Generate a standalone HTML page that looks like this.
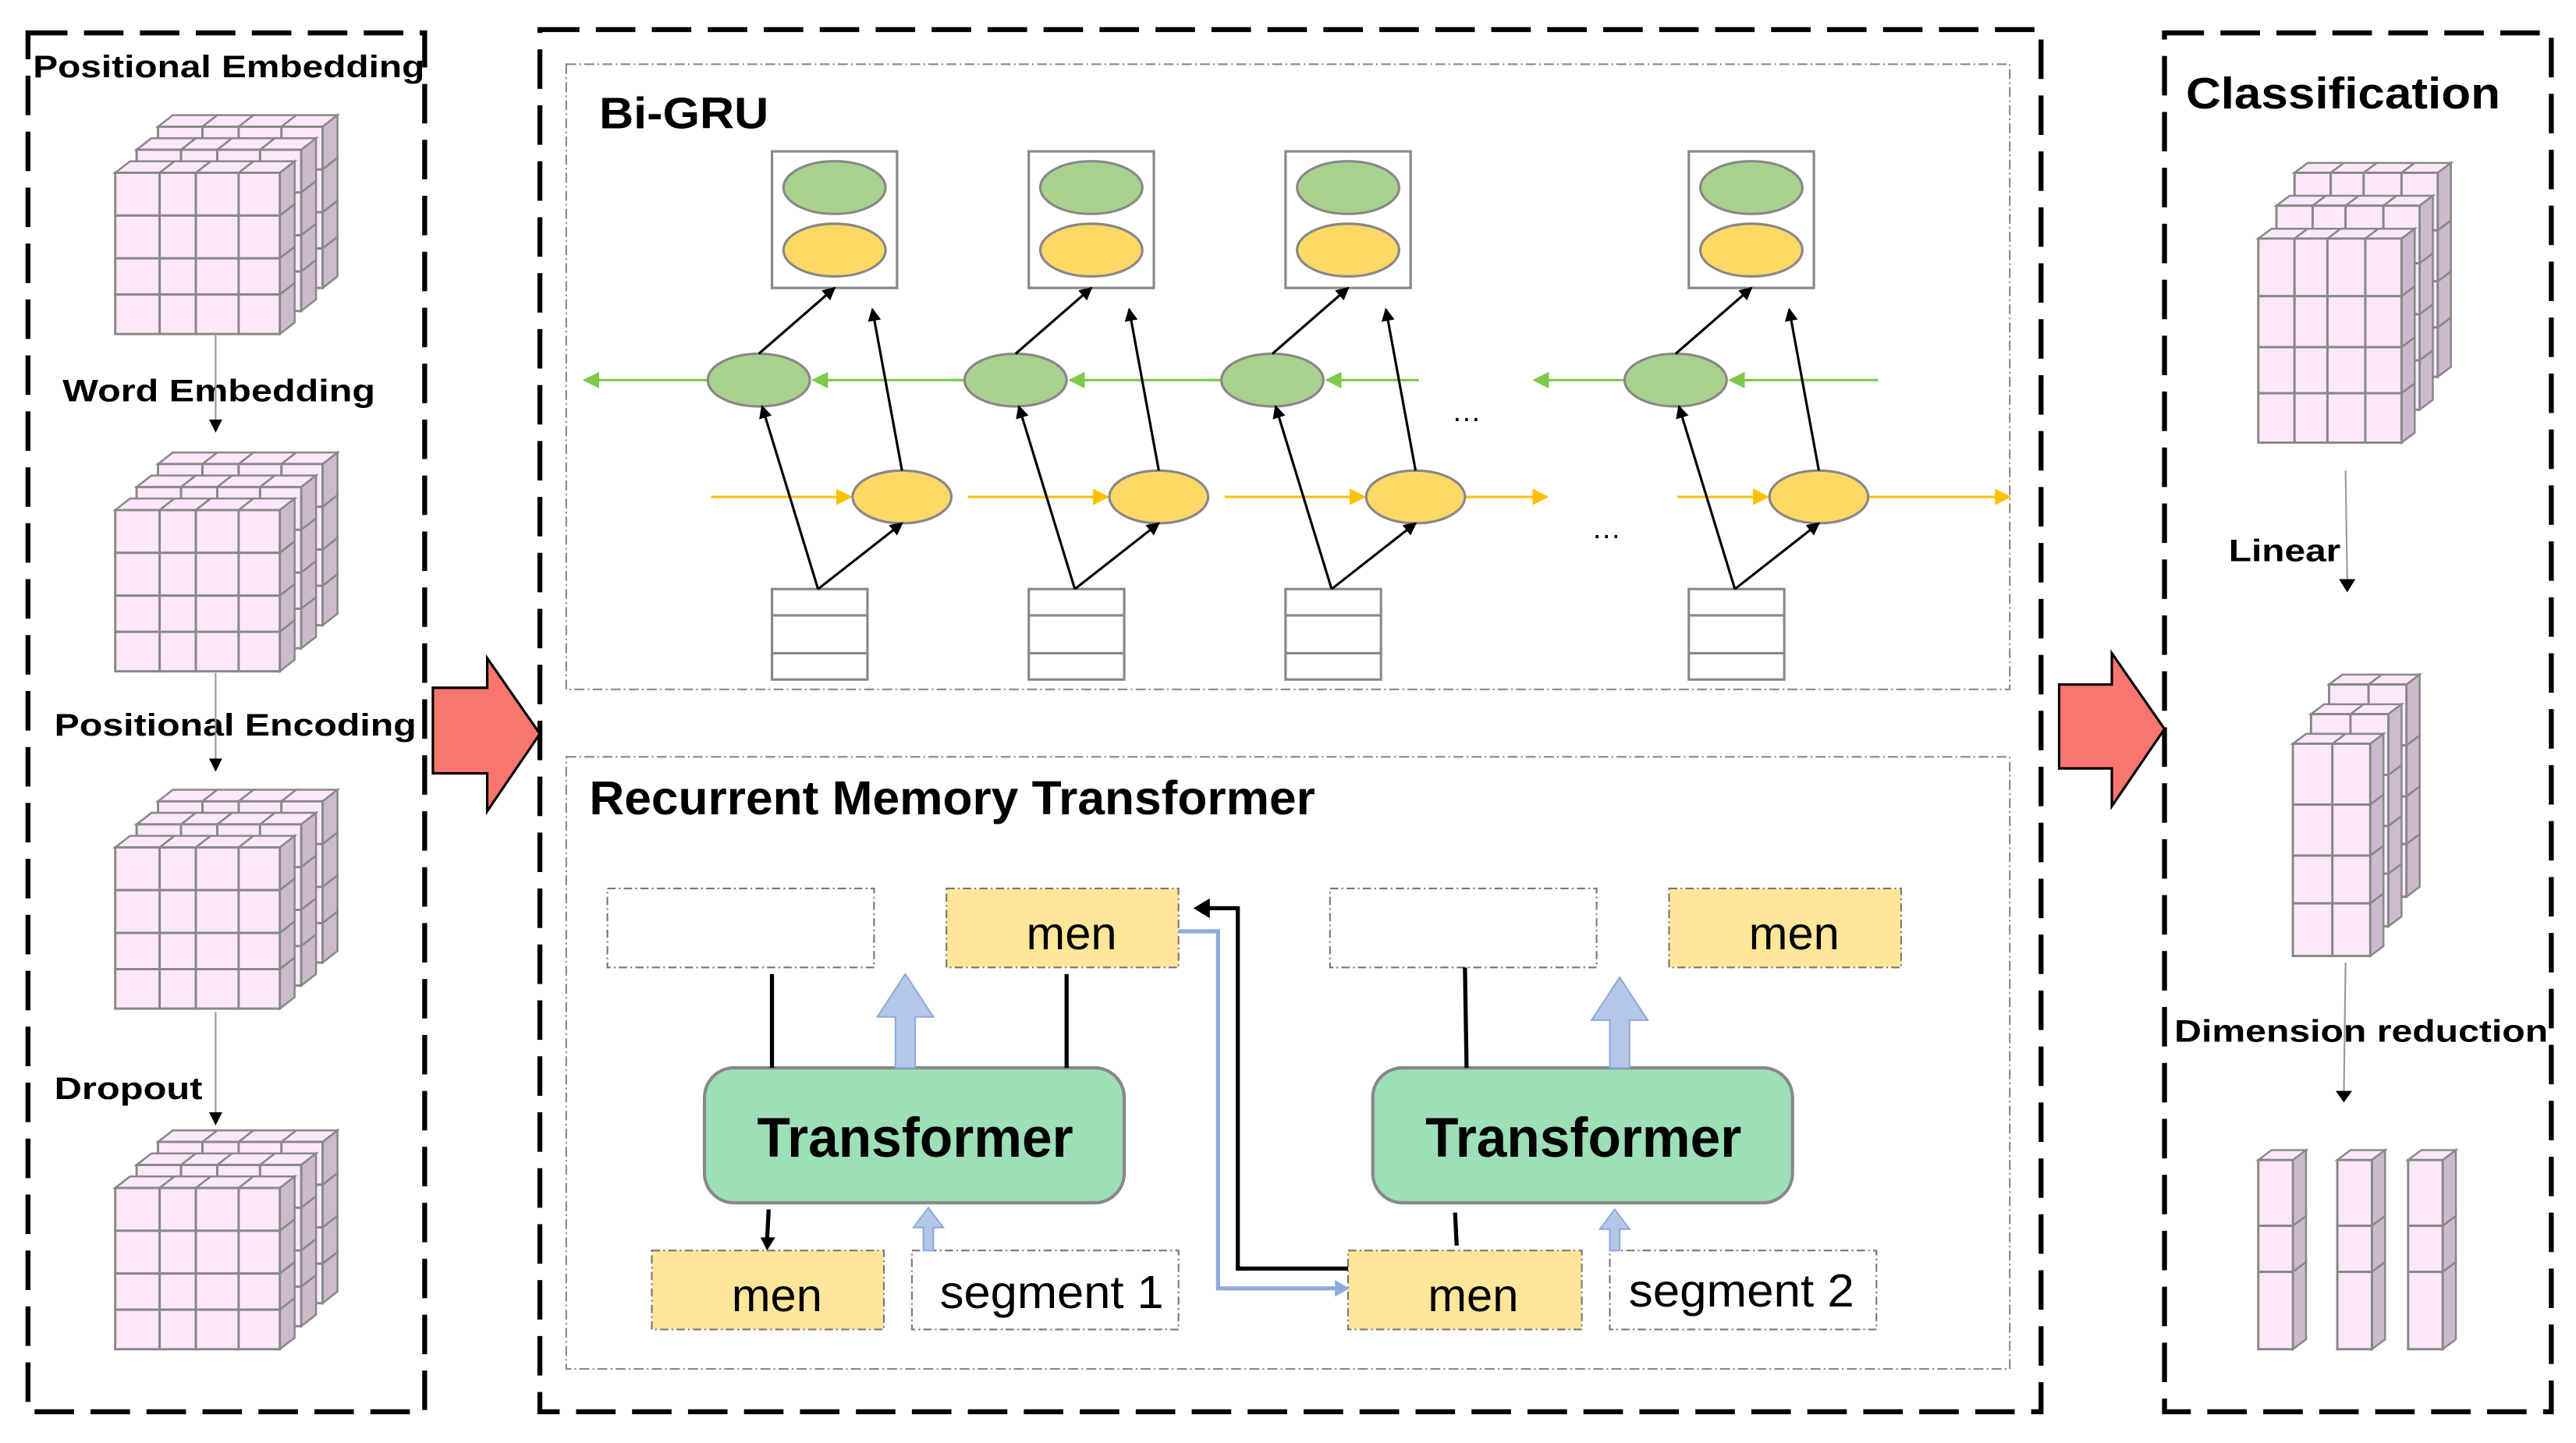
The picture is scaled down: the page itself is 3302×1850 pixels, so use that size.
<!DOCTYPE html>
<html><head><meta charset="utf-8"><style>
html,body{margin:0;padding:0;background:#fff;}
svg{display:block;}
text{font-family:"Liberation Sans",Arial,sans-serif;}
.n{font-family:"Liberation Sans Narrow","Liberation Sans",sans-serif;}
</style></head><body>
<svg id="s" width="3302" height="1850" viewBox="0 0 1565 877" preserveAspectRatio="none" xmlns="http://www.w3.org/2000/svg">
<defs>
<marker id="ab" markerWidth="8" markerHeight="8" refX="7" refY="4" orient="auto" markerUnits="userSpaceOnUse"><path d="M0,0 L8,4 L0,8 z" fill="#000"/></marker>
<marker id="ag" markerWidth="10" markerHeight="10" refX="9" refY="5" orient="auto" markerUnits="userSpaceOnUse"><path d="M0,0 L10,5 L0,10 z" fill="#7ec84a"/></marker>
<marker id="ay" markerWidth="10" markerHeight="10" refX="9" refY="5" orient="auto" markerUnits="userSpaceOnUse"><path d="M0,0 L10,5 L0,10 z" fill="#ffc000"/></marker>
</defs>
<g fill="none" stroke="#000" stroke-width="3" stroke-dasharray="24 10">
<rect x="17" y="20" width="241" height="838"/>
<rect x="328" y="18" width="912" height="840"/>
<rect x="1315" y="20" width="235" height="838"/>
</g>
<g fill="none" stroke="#888" stroke-width="1" stroke-dasharray="6 2 1 2">
<rect x="344" y="39" width="877" height="380"/>
<rect x="344" y="460" width="877" height="372"/>
</g>
<path d="M263,418 L296,418 L296,400 L328,446 L296,493 L296,470 L263,470 Z" fill="#f8766d" stroke="#000" stroke-width="1.5"/>
<path d="M1251,416 L1283,416 L1283,397 L1315,443 L1283,490 L1283,467 L1251,467 Z" fill="#f8766d" stroke="#000" stroke-width="1.5"/>
<g id="cubes"></g>
<g font-weight="bold" font-size="19">
<text x="20" y="47" textLength="238" lengthAdjust="spacingAndGlyphs">Positional Embedding</text>
<text x="38" y="244" textLength="190" lengthAdjust="spacingAndGlyphs">Word Embedding</text>
<text x="33" y="447" textLength="220" lengthAdjust="spacingAndGlyphs">Positional Encoding</text>
<text x="33" y="668" textLength="90" lengthAdjust="spacingAndGlyphs">Dropout</text>
<text x="1328" y="66" font-size="27" textLength="191" lengthAdjust="spacingAndGlyphs">Classification</text>
<text x="1354" y="341" textLength="68" lengthAdjust="spacingAndGlyphs">Linear</text>
<text x="1321" y="633" textLength="227" lengthAdjust="spacingAndGlyphs">Dimension reduction</text>
</g>
<g stroke="#999" stroke-width="1">
<line x1="131" y1="203" x2="131" y2="256"/>
<line x1="131" y1="409" x2="131" y2="462"/>
<line x1="131" y1="615" x2="131" y2="677"/>
<line x1="1425" y1="286" x2="1426" y2="352"/>
<line x1="1425" y1="585" x2="1424" y2="663"/>
</g>
<g fill="#000">
<path d="M127,255 L135,255 L131,263 Z"/>
<path d="M127,461 L135,461 L131,469 Z"/>
<path d="M127,676 L135,676 L131,684 Z"/>
<path d="M1421,352 L1431,352 L1426,360 Z"/>
<path d="M1419,663 L1429,663 L1424,670 Z"/>
</g>
<text class="n" x="364" y="78" font-size="27" font-weight="bold" textLength="103" lengthAdjust="spacingAndGlyphs">Bi-GRU</text>
<g id="gru"></g>
<text x="882" y="256" font-size="18">…</text>
<text x="967" y="327" font-size="18">…</text>
<text class="n" x="358" y="495" font-size="29" font-weight="bold" textLength="441" lengthAdjust="spacingAndGlyphs">Recurrent Memory Transformer</text>
<g stroke="#777" stroke-width="1" stroke-dasharray="5 2 1 2">
<rect x="369" y="540" width="162" height="48" fill="#fff"/>
<rect x="575" y="540" width="141" height="48" fill="#ffe699"/>
<rect x="808" y="540" width="162" height="48" fill="#fff"/>
<rect x="1014" y="540" width="141" height="48" fill="#ffe699"/>
<rect x="396" y="760" width="141" height="48" fill="#ffe699"/>
<rect x="554" y="760" width="162" height="48" fill="#fff"/>
<rect x="819" y="760" width="142" height="48" fill="#ffe699"/>
<rect x="978" y="760" width="162" height="48" fill="#fff"/>
</g>
<g font-size="28" text-anchor="middle">
<text class="n" x="651" y="577" textLength="55" lengthAdjust="spacingAndGlyphs">men</text>
<text class="n" x="1090" y="577" textLength="55" lengthAdjust="spacingAndGlyphs">men</text>
<text class="n" x="472" y="797" textLength="55" lengthAdjust="spacingAndGlyphs">men</text>
<text class="n" x="639" y="795" textLength="136" lengthAdjust="spacingAndGlyphs">segment 1</text>
<text class="n" x="895" y="797" textLength="55" lengthAdjust="spacingAndGlyphs">men</text>
<text class="n" x="1058" y="794" textLength="137" lengthAdjust="spacingAndGlyphs">segment 2</text>
</g>
<rect x="428" y="649" width="255" height="82" rx="18" fill="#9ddfb6" stroke="#888" stroke-width="2"/>
<rect x="834" y="649" width="255" height="82" rx="18" fill="#9ddfb6" stroke="#888" stroke-width="2"/>
<text class="n" x="556" y="703" font-size="34" font-weight="bold" text-anchor="middle" textLength="192" lengthAdjust="spacingAndGlyphs">Transformer</text>
<text class="n" x="962" y="703" font-size="34" font-weight="bold" text-anchor="middle" textLength="192" lengthAdjust="spacingAndGlyphs">Transformer</text>
<g stroke="#000" stroke-width="2.5" fill="none">
<line x1="469" y1="592" x2="469" y2="649"/>
<line x1="648" y1="592" x2="648" y2="649"/>
<line x1="890" y1="588" x2="891" y2="649"/>
<line x1="884" y1="737" x2="885" y2="757"/>
<line x1="467" y1="735" x2="466" y2="754"/>
<polyline points="819,771 752,771 752,552 733,552"/>
</g>
<path d="M462,752 L471,752 L466,760 Z" fill="#000"/>
<path d="M725,552 L735,546 L735,558 Z" fill="#000"/>
<polyline points="716,566 740,566 740,783 812,783" fill="none" stroke="#8faadc" stroke-width="2.5"/>
<path d="M820,783 L811,778 L811,788 Z" fill="#8faadc"/>
<g fill="#b4c7e7" stroke="#8faadc" stroke-width="1">
<path d="M544,649 L544,618 L533,618 L550,592 L567,618 L556,618 L556,649 Z"/>
<path d="M978,649 L978,620 L967,620 L984,594 L1001,620 L990,620 L990,649 Z"/>
<path d="M561,760 L561,746 L555,746 L564,734 L573,746 L567,746 L567,760 Z"/>
<path d="M978,760 L978,747 L972,747 L981,735 L990,747 L984,747 L984,760 Z"/>
</g>
</svg>
<script>
var NS="http://www.w3.org/2000/svg";
function el(p,t,a){var e=document.createElementNS(NS,t);for(var k in a)e.setAttribute(k,a[k]);p.appendChild(e);return e;}
var C=document.getElementById("cubes");
var FC="#fde8fb",SC="#cdb9cc",ST="#888";
function layer(x,y,cw,rh,dx,dy){
 var w=cw.reduce((a,b)=>a+b,0);
 var cx=x;
 cw.forEach(function(c){el(C,"polygon",{points:cx+","+y+" "+(cx+c)+","+y+" "+(cx+c+dx)+","+(y+dy)+" "+(cx+dx)+","+(y+dy),fill:FC,stroke:ST,"stroke-width":1.2});cx+=c;});
 var cy=y;
 rh.forEach(function(r){el(C,"polygon",{points:(x+w)+","+cy+" "+(x+w+dx)+","+(cy+dy)+" "+(x+w+dx)+","+(cy+r+dy)+" "+(x+w)+","+(cy+r),fill:SC,stroke:ST,"stroke-width":1.2});cy+=r;});
 cy=y;
 rh.forEach(function(r){cx=x;cw.forEach(function(c){el(C,"rect",{x:cx,y:cy,width:c,height:r,fill:FC,stroke:ST,"stroke-width":1.4});cx+=c;});cy+=r;});
}
function cube(x,y,cw,rh,dx,dy,ox,oy,n){
 for(var i=n-1;i>=0;i--)layer(x+ox*i,y+oy*i,cw,rh,dx,dy);
}
[105,310,515,722].forEach(function(y){cube(70,y,[27,22,26,25],[26,26,22,24],9,-7,13,-14,3);});
cube(1372,145,[22,20,23,22],[35,31,28,30],8,-6,11,-20,3);
cube(1393,452,[24,23],[37,31,29,32],8,-6,11,-18,3);
[1372,1420,1463].forEach(function(x){layer(x,705,[21],[40,28,47],8,-6);});
var G=document.getElementById("gru");
var cols=[469,625,781,1026];
cols.forEach(function(x,i){
 el(G,"rect",{x:x,y:92,width:76,height:83,fill:"#fff",stroke:"#888","stroke-width":1.5});
 el(G,"ellipse",{cx:x+38,cy:114,rx:31,ry:16,fill:"#a9d18e",stroke:"#888","stroke-width":1.5});
 el(G,"ellipse",{cx:x+38,cy:152,rx:31,ry:16,fill:"#ffd966",stroke:"#888","stroke-width":1.5});
 var bx=x,by=358;
 el(G,"rect",{x:bx,y:by,width:58,height:55,fill:"#fff",stroke:"#888","stroke-width":1.5});
 el(G,"line",{x1:bx,y1:by+16,x2:bx+58,y2:by+16,stroke:"#888","stroke-width":1.5});
 el(G,"line",{x1:bx,y1:by+39,x2:bx+58,y2:by+39,stroke:"#888","stroke-width":1.5});
 var gx=x-8,gy=231,yx=x+79,yy=302;
 var inStart=(i==2)?862:(i==3?1141:x+115);
 el(G,"line",{x1:inStart,y1:gy,x2:gx+33,y2:gy,stroke:"#7ec84a","stroke-width":1.5,"marker-end":"url(#ag)"});
 el(G,"line",{x1:gx,y1:gy,x2:(i==3?932:(i==0?355:x-46)),y2:gy,stroke:"#7ec84a","stroke-width":1.5,"marker-end":(i==0||i==3)?"url(#ag)":""});
 var yst=(i==3)?1019:x-37;
 el(G,"line",{x1:yst,y1:yy,x2:yx-31,y2:yy,stroke:"#ffc000","stroke-width":1.5,"marker-end":"url(#ay)"});
 if(i>=2)el(G,"line",{x1:yx+30,y1:yy,x2:(i==2?940:1221),y2:yy,stroke:"#ffc000","stroke-width":1.5,"marker-end":"url(#ay)"});
 el(G,"ellipse",{cx:gx,cy:gy,rx:31,ry:16,fill:"#a9d18e",stroke:"#888","stroke-width":1.5});
 el(G,"ellipse",{cx:yx,cy:yy,rx:30,ry:16,fill:"#ffd966",stroke:"#888","stroke-width":1.5});
 var ix=x+28;
 el(G,"line",{x1:ix,y1:by,x2:gx+2,y2:gy+16,stroke:"#000","stroke-width":1.5,"marker-end":"url(#ab)"});
 el(G,"line",{x1:ix,y1:by,x2:yx,y2:yy+16,stroke:"#000","stroke-width":1.5,"marker-end":"url(#ab)"});
 el(G,"line",{x1:gx,y1:gy-16,x2:x+38,y2:175,stroke:"#000","stroke-width":1.5,"marker-end":"url(#ab)"});
 el(G,"line",{x1:yx,y1:yy-16,x2:x+61,y2:188,stroke:"#000","stroke-width":1.5,"marker-end":"url(#ab)"});
});
</script>
</body></html>
